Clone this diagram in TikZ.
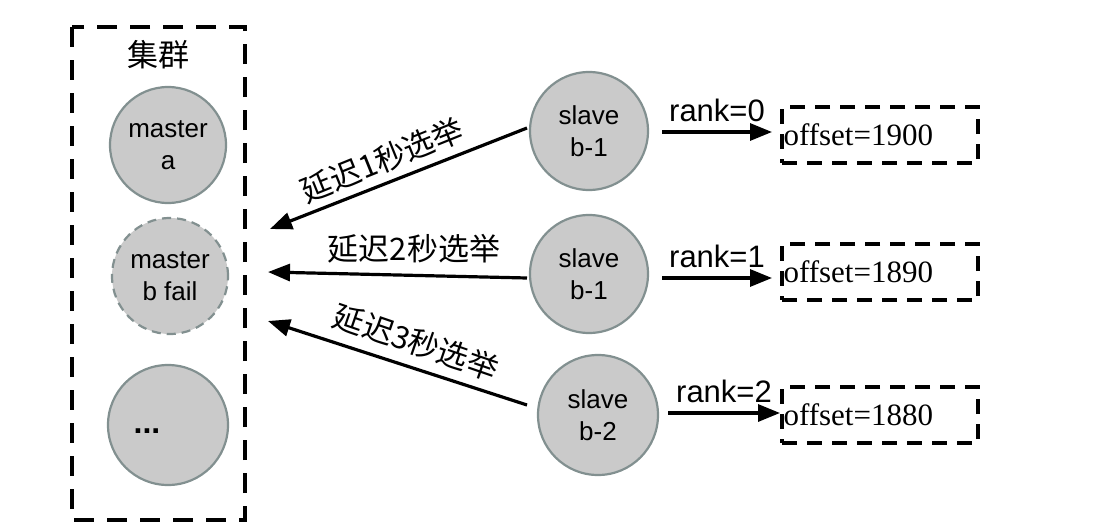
\documentclass[tikz,border=0pt]{standalone}
\usepackage{fontspec}
\setmainfont{Liberation Serif}
\setsansfont{Liberation Sans}
\newfontfamily\cjk{Noto Sans CJK SC}
\usetikzlibrary{arrows.meta}
\definecolor{circfill}{RGB}{202,202,202}
\definecolor{circline}{RGB}{130,144,144}
\tikzset{
  nodecirc/.style={circle, draw=circline, fill=circfill, line width=2.2pt, minimum size=#1, inner sep=0pt,
    align=center, font=\sffamily\fontsize{26}{32}\selectfont},
  nodecirc/.default=116pt,
  failcirc/.style={nodecirc, dash pattern=on 9pt off 6pt},
  offbox/.style={draw, line width=3.2pt, dash pattern=on 15pt off 10pt, minimum width=196pt, minimum height=56pt,
    inner sep=0pt, font=\rmfamily\fontsize{31}{34}\selectfont, text width=193pt, align=left},
  arr/.style={line width=3.2pt, -{Triangle[length=22pt,width=17pt]}},
  ranklab/.style={font=\sffamily\fontsize{31}{32}\selectfont, above, inner sep=9pt},
  cnlab/.style={font=\cjk\fontsize{31}{32}\selectfont, inner sep=0pt}
}
\begin{document}
\begin{tikzpicture}[x=1pt,y=-1pt]
\useasboundingbox (0,0) rectangle (1120,530);
% cluster
\draw[line width=3.6pt, dash pattern=on 20pt off 13pt] (72,27) rectangle (245,520);
\node[cnlab, font=\cjk\fontsize{31}{32}\selectfont] (cl) at (158,55) {集群};
\node[nodecirc] (ma) at (168,145) {master\\a};
\node[failcirc] (mb) at (170,276) {master\\b fail};
\node[nodecirc=120pt] (mc) at (168,425) {};
\node[font=\sffamily\bfseries\fontsize{32}{32}\selectfont, inner sep=0pt] (dots) at (147,431) {...};
% slaves
\node[nodecirc=118pt] (s1) at (589,131) {slave\\b-1};
\node[nodecirc=118pt] (s2) at (589,274) {slave\\b-1};
\node[nodecirc=120pt] (s3) at (598,415) {slave\\b-2};
% offset boxes
\node[offbox] (o1) at (880,135) {offset=1900};
\node[offbox] (o2) at (880,272) {offset=1890};
\node[offbox] (o3) at (880,415) {offset=1880};
% rank arrows
\coordinate (r1a) at (662,132); \coordinate (r1b) at (772,132);
\coordinate (r2a) at (662,278); \coordinate (r2b) at (772,278);
\coordinate (r3a) at (668,413); \coordinate (r3b) at (780,413);
\draw[arr] (r1a) -- node[ranklab] {rank=0} (r1b);
\draw[arr] (r2a) -- node[ranklab] {rank=1} (r2b);
\draw[arr] (r3a) -- node[ranklab] {rank=2} (r3b);
% election arrows
\coordinate (e1a) at (527,128); \coordinate (e1b) at (270,229);
\coordinate (e2a) at (527,278); \coordinate (e2b) at (268,272);
\coordinate (e3a) at (527,405); \coordinate (e3b) at (268,321);
\draw[arr] (e1a) -- (e1b);
\draw[arr] (e2a) -- (e2b);
\draw[arr] (e3a) -- (e3b);
\node[cnlab, rotate=22] (l1) at (382,160) {延迟1秒选举};
\node[cnlab] (l2) at (414,249) {延迟2秒选举};
\node[cnlab, rotate=-19] (l3) at (416,342) {延迟3秒选举};
\end{tikzpicture}
\end{document}
